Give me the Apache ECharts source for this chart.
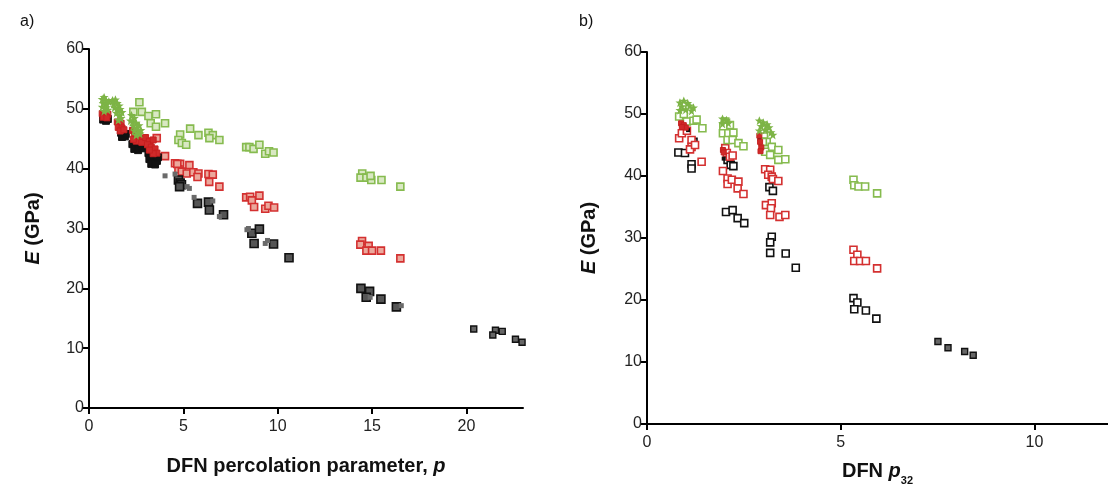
<!DOCTYPE html>
<html>
<head>
<meta charset="utf-8">
<script src="https://cdn.jsdelivr.net/npm/echarts@6/dist/echarts.min.js"></script>
<style>
  html, body { margin: 0; padding: 0; background: #fff; }
  #chart { width: 1108px; height: 485px; }
</style>
</head>
<body>
<div id="chart"></div>
<script>
// ---- Panel a: E vs DFN percolation parameter p ----
const aBlack = [[4.74,38.1],[4.83,37.6],[4.9,37.3],[4.8,37.0],[5.75,34.2],[6.33,34.4],[6.38,33.1],[7.13,32.3],
  [8.63,29.2],[9.03,29.9],[8.75,27.5],[9.78,27.4],[10.6,25.1],[14.41,20.0],[14.87,19.5],[14.69,18.5],[15.47,18.2],[16.29,16.9]];
const aBlackFar = [[20.39,13.2],[21.54,13.0],[21.4,12.2],[21.9,12.8],[22.6,11.5],[22.95,11.0]];
const aGreySmall = [[4.03,38.8],[4.56,39.1],[5.32,36.7],[5.57,35.2],[6.56,34.6],[6.91,32.0],[8.37,29.8],[8.45,30.0],
  [9.34,27.5],[9.46,28.0],[14.9,18.5],[16.55,17.1],[5.2,37.0]];
const aRed = [[4.03,42.1],[4.56,40.9],[4.83,40.8],[5.32,40.6],[4.74,39.9],[4.92,39.5],[5.18,39.2],[5.53,39.4],
  [5.8,39.2],[5.75,38.6],[6.33,39.1],[6.56,39.0],[6.37,37.8],[6.91,37.0],[8.33,35.2],[8.54,35.3],[9.03,35.5],
  [8.63,34.7],[8.75,33.6],[9.34,33.3],[9.51,33.8],[9.81,33.5],[14.47,27.9],[14.38,27.3],[14.82,27.1],[14.7,26.3],
  [15.0,26.3],[15.47,26.3],[16.5,25.0],[3.2,44.5],[3.59,45.1],[4.68,40.8]];
const aGreen = [[2.67,51.1],[2.35,49.5],[2.8,49.5],[3.15,48.8],[3.55,49.1],[4.03,47.6],[3.27,47.6],[3.55,47.0],
  [4.83,45.7],[4.74,44.8],[4.92,44.3],[5.15,44.0],[5.36,46.7],[5.8,45.6],[6.33,46.0],[6.56,45.6],[6.38,45.1],
  [6.91,44.8],[8.33,43.6],[8.5,43.6],[8.72,43.3],[9.03,44.0],[9.34,42.5],[9.54,42.9],[9.78,42.7],
  [14.48,39.2],[14.39,38.5],[14.7,38.5],[14.96,38.1],[14.92,38.8],[15.5,38.1],[16.5,37.0]];
// dense low-p clusters
const aGreenStar = [[0.7,51.6],[0.8,51.9],[0.9,51.4],[0.75,50.9],[0.95,50.8],[0.7,50.3],[0.9,50.2],[1.0,49.8],[0.8,49.6],[1.05,51.2],
  [1.25,51.4],[1.4,51.5],[1.3,50.8],[1.5,50.9],[1.6,50.5],[1.35,50.2],[1.5,49.8],[1.65,49.9],[1.45,49.3],[1.6,48.8],[1.7,48.4],[1.55,48.1],[1.75,49.4],
  [2.25,48.9],[2.4,48.4],[2.3,47.8],[2.5,47.6],[2.35,47.1],[2.55,46.8],[2.4,46.3],[2.6,46.0],[2.5,45.6],[2.7,45.8],[2.2,48.0],[2.65,47.2],[2.75,46.4]];
const aRedCluster = [[0.7,49.2],[0.85,49.0],[1.0,49.1],[0.75,48.6],[0.95,48.5],
  [1.5,47.8],[1.6,47.4],[1.7,47.6],[1.55,46.9],[1.75,46.8],[1.65,46.3],[1.85,46.5],
  [2.3,46.4],[2.5,46.0],[2.4,45.5],[2.6,45.3],[2.7,44.9],[2.5,44.6],[2.8,44.4],[2.35,44.9],
  [3.0,45.2],[3.2,44.6],[3.4,44.8],[3.1,44.0],[3.3,43.6],[3.5,43.3],[3.6,42.6],[3.4,42.5],[3.2,43.1]];
const aBlackCluster = [[0.75,48.2],[0.9,48.0],[1.0,48.3],
  [1.7,46.0],[1.8,45.6],[1.9,45.4],[1.75,45.3],[1.95,45.8],
  [2.3,44.1],[2.5,43.8],[2.7,43.5],[2.4,43.3],[2.6,43.1],[2.85,43.4],
  [3.15,42.6],[3.3,42.2],[3.5,41.8],[3.2,41.6],[3.4,41.2],[3.6,41.3],[3.3,40.8],[3.5,40.7],[3.65,41.9]];

// ---- Panel b: E vs DFN p32 ----
const bGreen = [[0.83,49.6],[1.03,48.8],[1.2,48.9],[1.28,49.1],[1.43,47.7],[0.95,50.0],
  [2.02,48.8],[2.04,48.4],[2.14,48.2],[1.97,48.0],[1.96,46.9],[2.1,46.9],[2.23,47.0],[2.08,45.8],[2.21,45.8],[2.36,45.3],[2.49,44.8],
  [3.02,46.6],[3.09,45.5],[2.99,45.5],[3.22,44.7],[3.39,44.2],[3.05,43.9],[3.18,43.4],[3.39,42.6],[3.57,42.7],[3.0,47.5],
  [5.33,39.4],[5.35,38.5],[5.46,38.3],[5.63,38.3],[5.94,37.2]];
const bRed = [[0.83,46.1],[0.9,46.9],[1.03,47.3],[1.15,45.8],[1.15,44.7],[1.11,44.3],[1.24,45.0],[1.41,42.3],
  [2.02,44.5],[2.06,43.7],[2.14,43.1],[2.21,43.3],[1.96,40.8],[2.08,39.6],[2.08,38.7],[2.19,39.4],[2.36,39.1],[2.34,38.0],[2.49,37.1],
  [3.05,41.1],[3.18,41.0],[3.13,40.2],[3.22,39.9],[3.25,39.5],[3.39,39.2],[3.07,35.3],[3.22,35.6],[3.2,34.8],[3.18,33.7],[3.42,33.4],[3.57,33.7],
  [5.33,28.1],[5.43,27.3],[5.35,26.3],[5.5,26.3],[5.65,26.3],[5.94,25.1]];
const bBlack = [[0.81,43.8],[0.98,43.7],[1.15,41.9],[1.15,41.2],[1.2,45.5],
  [2.08,42.6],[2.16,41.8],[2.23,41.6],[2.04,34.2],[2.21,34.5],[2.34,33.2],[2.51,32.4],
  [3.16,38.2],[3.25,37.6],[3.22,30.2],[3.18,29.3],[3.18,27.6],[3.58,27.5],[3.84,25.2],
  [5.33,20.3],[5.43,19.6],[5.35,18.5],[5.65,18.3],[5.92,17.0]];
const bBlackFilled = [[7.51,13.3],[7.77,12.3],[8.2,11.7],[8.42,11.1]];
const bGreenStar = [[0.85,51.8],[0.95,52.1],[1.05,51.7],[0.9,51.2],[1.1,51.3],[1.0,50.7],[1.15,50.5],[0.85,50.6],[1.2,51.0],
  [1.95,49.2],[2.05,49.0],[2.1,48.5],[1.95,48.4],
  [2.9,48.9],[3.0,48.6],[3.1,48.3],[2.95,48.0],[3.15,47.8],[3.05,47.4],[3.2,47.0],[2.9,47.3],[3.25,46.6]];
const bRedCluster = [[0.88,48.5],[0.95,48.2],[1.0,47.8],[0.9,47.9],[1.96,44.2],[1.98,43.8],
  [2.9,46.5],[2.92,45.5],[2.95,44.6],[2.93,44.0]];
const bBlackCluster = [[1.06,47.4],[2.9,46.0],[1.98,42.8]];

const yTicks = { min: 0, max: 60, interval: 10 };

const FONT = '"Liberation Sans", Arial, Helvetica, sans-serif';
const STAR = 'path://M0,-10 L3,-3 L10,-3 L4,2 L6,10 L0,5 L-6,10 L-4,2 L-10,-3 L-3,-3 Z';

const chart = echarts.init(document.getElementById('chart'), null, { renderer: 'canvas' });

function yAxis(gridIndex, gap) {
  return {
    type: 'value', gridIndex, min: yTicks.min, max: yTicks.max, interval: yTicks.interval,
    name: '{e|E}{n| (GPa)}', nameLocation: 'middle', nameGap: gap, nameRotate: 90,
    nameTextStyle: { rich: {
      e: { fontFamily: FONT, fontSize: 20, fontWeight: 'bold', fontStyle: 'italic', color: '#111' },
      n: { fontFamily: FONT, fontSize: 20, fontWeight: 'bold', color: '#111' } } },
    axisLine: { show: true, lineStyle: { color: '#000', width: 2 } },
    axisTick: { show: true, length: 6, lineStyle: { color: '#000', width: 2 } },
    axisLabel: { fontFamily: FONT, fontSize: 16, color: '#222', margin: 5 },
    splitLine: { show: false }
  };
}
function xAxis(gridIndex, max, name, gap, rich) {
  return {
    type: 'value', gridIndex, min: 0, max, interval: 5,
    name, nameLocation: 'middle', nameGap: gap,
    nameTextStyle: { fontFamily: FONT, fontSize: 20, fontWeight: 'bold', color: '#111', rich },
    axisLine: { show: true, onZero: false, lineStyle: { color: '#000', width: 2 } },
    axisTick: { show: true, length: 6, lineStyle: { color: '#000', width: 2 } },
    axisLabel: { fontFamily: FONT, fontSize: 16, color: '#222', margin: 11, showMaxLabel: false },
    splitLine: { show: false }
  };
}

function sc(idx, data, symbol, size, fill, border, bw, z) {
  return { type: 'scatter', xAxisIndex: idx, yAxisIndex: idx, data, symbol, symbolSize: size, clip: false,
    itemStyle: { color: fill, borderColor: border, borderWidth: bw, opacity: 1 }, z: z || 2,
    emphasis: { disabled: true }, silent: true };
}

const option = {
  animation: false,
  backgroundColor: '#fff',
  grid: [
    { left: 89, top: 49, width: 434, height: 359, outerBoundsMode: 'none', containLabel: false },
    { left: 647, top: 52, width: 461, height: 372, outerBoundsMode: 'none', containLabel: false }
  ],
  xAxis: [
    xAxis(0, 23, 'DFN percolation parameter, {i|p}', 48, {
      i: { fontFamily: FONT, fontSize: 20, fontWeight: 'bold', fontStyle: 'italic', color: '#111' } }),
    xAxis(1, 11.9, 'DFN {i|p}{s|32}', 32, {
      i: { fontFamily: FONT, fontSize: 20, fontWeight: 'bold', fontStyle: 'italic', color: '#111', lineHeight: 28 },
      s: { fontFamily: FONT, fontSize: 11, fontWeight: 'bold', color: '#111', verticalAlign: 'bottom', lineHeight: 30 } })
  ],
  yAxis: [yAxis(0, 46), yAxis(1, 48)],
  graphic: [
    { type: 'text', left: 20, top: 14, style: { text: 'a)', fontFamily: FONT, fontSize: 16, fill: '#111' } },
    { type: 'text', left: 579, top: 14, style: { text: 'b)', fontFamily: FONT, fontSize: 16, fill: '#111' } }
  ],
  series: [
    // panel a
    sc(0, aGreen, 'rect', 7, '#d9e8c3', '#86bb4f', 1.6, 2),
    sc(0, aRed, 'rect', 7, '#eba89c', '#d43030', 1.6, 3),
    sc(0, aBlack, 'rect', 8, '#555', '#111', 1.6, 4),
    sc(0, aBlackFar, 'rect', 6, '#666', '#111', 1.4, 4),
    sc(0, aGreySmall, 'rect', 5, '#6a6a6a', '#6a6a6a', 0, 4),
    sc(0, aBlackCluster, 'rect', 7, '#111', '#111', 1, 5),
    sc(0, aRedCluster, 'rect', 6, '#d02a2a', '#c62020', 1, 6),
    sc(0, aGreenStar, STAR, 9, '#7db446', '#7db446', 0, 7),
    // panel b
    sc(1, bBlack, 'rect', 7, '#fff', '#111', 1.6, 2),
    sc(1, bRed, 'rect', 7, '#fff', '#d43030', 1.6, 3),
    sc(1, bGreen, 'rect', 7, '#fff', '#86bb4f', 1.6, 4),
    sc(1, bBlackFilled, 'rect', 6, '#666', '#111', 1.4, 4),
    sc(1, bBlackCluster, 'rect', 4, '#111', '#111', 0, 5),
    sc(1, bRedCluster, 'rect', 5, '#d02a2a', '#c62020', 1, 5),
    sc(1, bGreenStar, STAR, 9, '#7db446', '#7db446', 0, 6)
  ]
};
chart.setOption(option);
</script>
</body>
</html>
